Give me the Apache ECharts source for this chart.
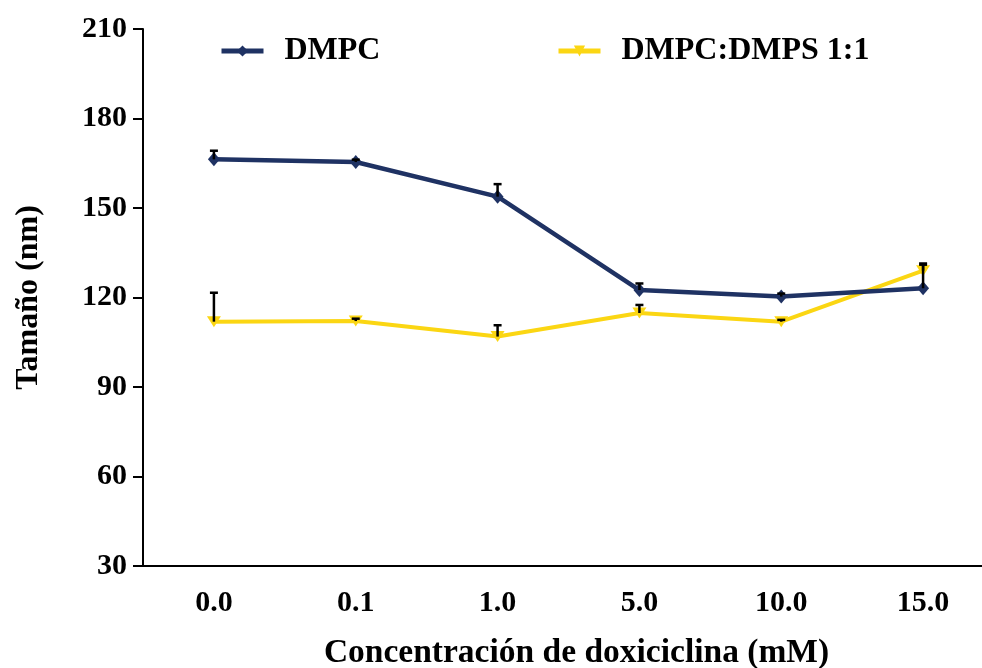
<!DOCTYPE html>
<html lang="es">
<head>
<meta charset="UTF-8">
<title>Tamaño vs doxiciclina</title>
<script src="https://cdn.jsdelivr.net/npm/echarts@6.0.0/dist/echarts.min.js"></script>
<style>
  html, body { margin: 0; padding: 0; background: #fff; }
  #wrap { width: 982px; height: 668px; overflow: hidden; position: relative; }
</style>
</head>
<body>
<!-- chart is a bit wider than the window: the x axis runs past the right edge in the original -->
<div id="wrap"><div id="main" style="width: 994px; height: 668px;"></div></div>
<script type="text/javascript">
// concentrations (mM)
const categories = ['0.0', '0.1', '1.0', '5.0', '10.0', '15.0'];

// mean size (nm) and upper error
const dmpc = [166.3, 165.4, 153.8, 122.5, 120.3, 123.1];
const dmpcErr = [2.9, 0.8, 4.2, 2.2, 1.0, 8.3];
const dmpcDmps = [111.9, 112.1, 106.9, 114.8, 111.9, 129.0];
const dmpcDmpsErr = [9.7, 0.8, 3.8, 2.7, 0.6, 2.0];

const yTicks = [30, 60, 90, 120, 150, 180, 210];

const font = 'Liberation Serif';
const navy = '#1F3263';
const yellow = '#FBD613';

// build [index, mean, mean + err] for the error bar series
function errData(vals, errs) {
    return vals.map((v, i) => [i, v, v + errs[i]]);
}

function renderErr(params, api) {
    const base = api.coord([api.value(0), api.value(1)]);
    const top = api.coord([api.value(0), api.value(2)]);
    const cap = 4;
    const style = { stroke: '#000', lineWidth: 2.5 };
    return {
        type: 'group',
        children: [
            { type: 'line', shape: { x1: base[0], y1: base[1], x2: top[0], y2: top[1] }, style: style },
            { type: 'line', shape: { x1: top[0] - cap, y1: top[1], x2: top[0] + cap, y2: top[1] }, style: style }
        ]
    };
}

const labelStyle = { color: '#000', fontFamily: font, fontWeight: 'bold', fontSize: 30 };

let myChart = echarts.init(document.getElementById('main'));

let options = {
    animation: false,
    backgroundColor: '#fff',
    grid: { left: 143, top: 29, bottom: 102, right: 0, outerBoundsMode: 'none', containLabel: false },
    legend: [
        {
            data: ['DMPC'], left: 214, top: 30,
            itemWidth: 42, itemHeight: 14,
            lineStyle: { width: 5 },
            textStyle: { ...labelStyle, fontSize: 32, padding: [0, 0, 0, 16] }
        },
        {
            data: ['DMPC:DMPS 1:1'], left: 551, top: 30,
            itemWidth: 42, itemHeight: 14,
            lineStyle: { width: 5 },
            textStyle: { ...labelStyle, fontSize: 32, padding: [0, 0, 0, 16] }
        }
    ],
    xAxis: [
        {
            type: 'category',
            data: categories,
            boundaryGap: true,
            name: 'Concentración de doxiciclina (mM)',
            nameLocation: 'middle',
            nameGap: 70,
            nameTextStyle: { ...labelStyle, fontSize: 33.5, padding: [0, 0, 0, 16] },
            axisLine: { lineStyle: { color: '#000', width: 2 } },
            axisTick: { alignWithLabel: true, length: 10, lineStyle: { color: '#000', width: 2 } },
            axisLabel: { ...labelStyle, margin: 22 },
            splitLine: { show: false }
        },
        {
            // inner half of the crossing ticks
            type: 'category',
            data: categories,
            position: 'bottom',
            boundaryGap: true,
            axisLine: { show: false },
            axisTick: { inside: true, alignWithLabel: true, length: 10, lineStyle: { color: '#000', width: 2 } },
            axisLabel: { show: false },
            splitLine: { show: false }
        }
    ],
    yAxis: {
        type: 'value',
        min: 30,
        max: 210,
        interval: 30,
        name: 'Tamaño (nm)',
        nameLocation: 'middle',
        nameGap: 98,
        nameTextStyle: { ...labelStyle, fontSize: 32 },
        axisLine: { show: true, lineStyle: { color: '#000', width: 2 } },
        axisTick: { show: true, length: 10, lineStyle: { color: '#000', width: 2 } },
        axisLabel: {
            ...labelStyle, margin: 16,
            formatter: v => (yTicks.includes(v) ? String(v) : '')
        },
        splitLine: { show: false }
    },
    series: [
        {
            name: 'DMPC',
            type: 'line',
            data: dmpc,
            symbol: 'diamond',
            symbolSize: [12, 14],
            lineStyle: { color: navy, width: 4.5 },
            itemStyle: { color: navy },
            z: 3
        },
        {
            name: 'DMPC:DMPS 1:1',
            type: 'line',
            data: dmpcDmps,
            symbol: 'triangle',
            symbolRotate: 180,
            symbolSize: [14, 11],
            lineStyle: { color: yellow, width: 4 },
            itemStyle: { color: yellow },
            z: 2
        },
        {
            type: 'custom',
            renderItem: renderErr,
            data: errData(dmpc, dmpcErr),
            encode: { x: 0, y: [1, 2] },
            z: 10,
            silent: true
        },
        {
            type: 'custom',
            renderItem: renderErr,
            data: errData(dmpcDmps, dmpcDmpsErr),
            encode: { x: 0, y: [1, 2] },
            z: 10,
            silent: true
        }
    ]
};

myChart.setOption(options);
</script>
</body>
</html>
